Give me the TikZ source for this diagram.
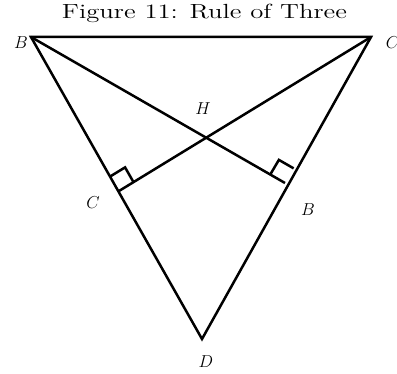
\documentclass[tikz,border=0pt]{standalone}
\usetikzlibrary{calc}
\begin{document}
\begin{tikzpicture}[x=1pt,y=-1pt,line width=2.5pt,
  lbl/.style={font=\fontsize{17}{19}\selectfont, inner sep=0pt},
  ttl/.style={inner sep=0pt, anchor=base}]
\useasboundingbox (0,0) rectangle (397,374);
\node[ttl] (title) at (204.5,18.3) {\resizebox{285pt}{14.4pt}{\fontsize{12}{14}\selectfont Figure 11: Rule of Three}};
\coordinate (B) at (31,37);
\coordinate (C) at (371,37);
\coordinate (D) at (202,339);
\coordinate (F1) at (119,191);
\coordinate (F2) at (285,183);
\draw[line join=miter] (B) -- (C) -- (D) -- cycle;
\draw (B) -- (F2);
\draw (C) -- (F1);
\coordinate (a1) at ($(F1)!17pt!(B)$);
\coordinate (a3) at ($(F1)!17pt!(C)$);
\coordinate (a2) at ($(a1)+(a3)-(F1)$);
\draw (a1) -- (a2) -- (a3);
\coordinate (b1) at ($(F2)!17pt!(C)$);
\coordinate (b3) at ($(F2)!17pt!(B)$);
\coordinate (b2) at ($(b1)+(b3)-(F2)$);
\draw (b1) -- (b2) -- (b3);
\node[lbl] (lB) at (21,43) {$B$};
\node[lbl,anchor=west] (lC) at (384.5,43) {$C$};
\node[lbl] (lH) at (203,109) {$H$};
\node[lbl] (lC2) at (93,203) {$C$};
\node[lbl] (lB2) at (308,210) {$B$};
\node[lbl] (lD) at (206,362) {$D$};
\end{tikzpicture}
\end{document}
